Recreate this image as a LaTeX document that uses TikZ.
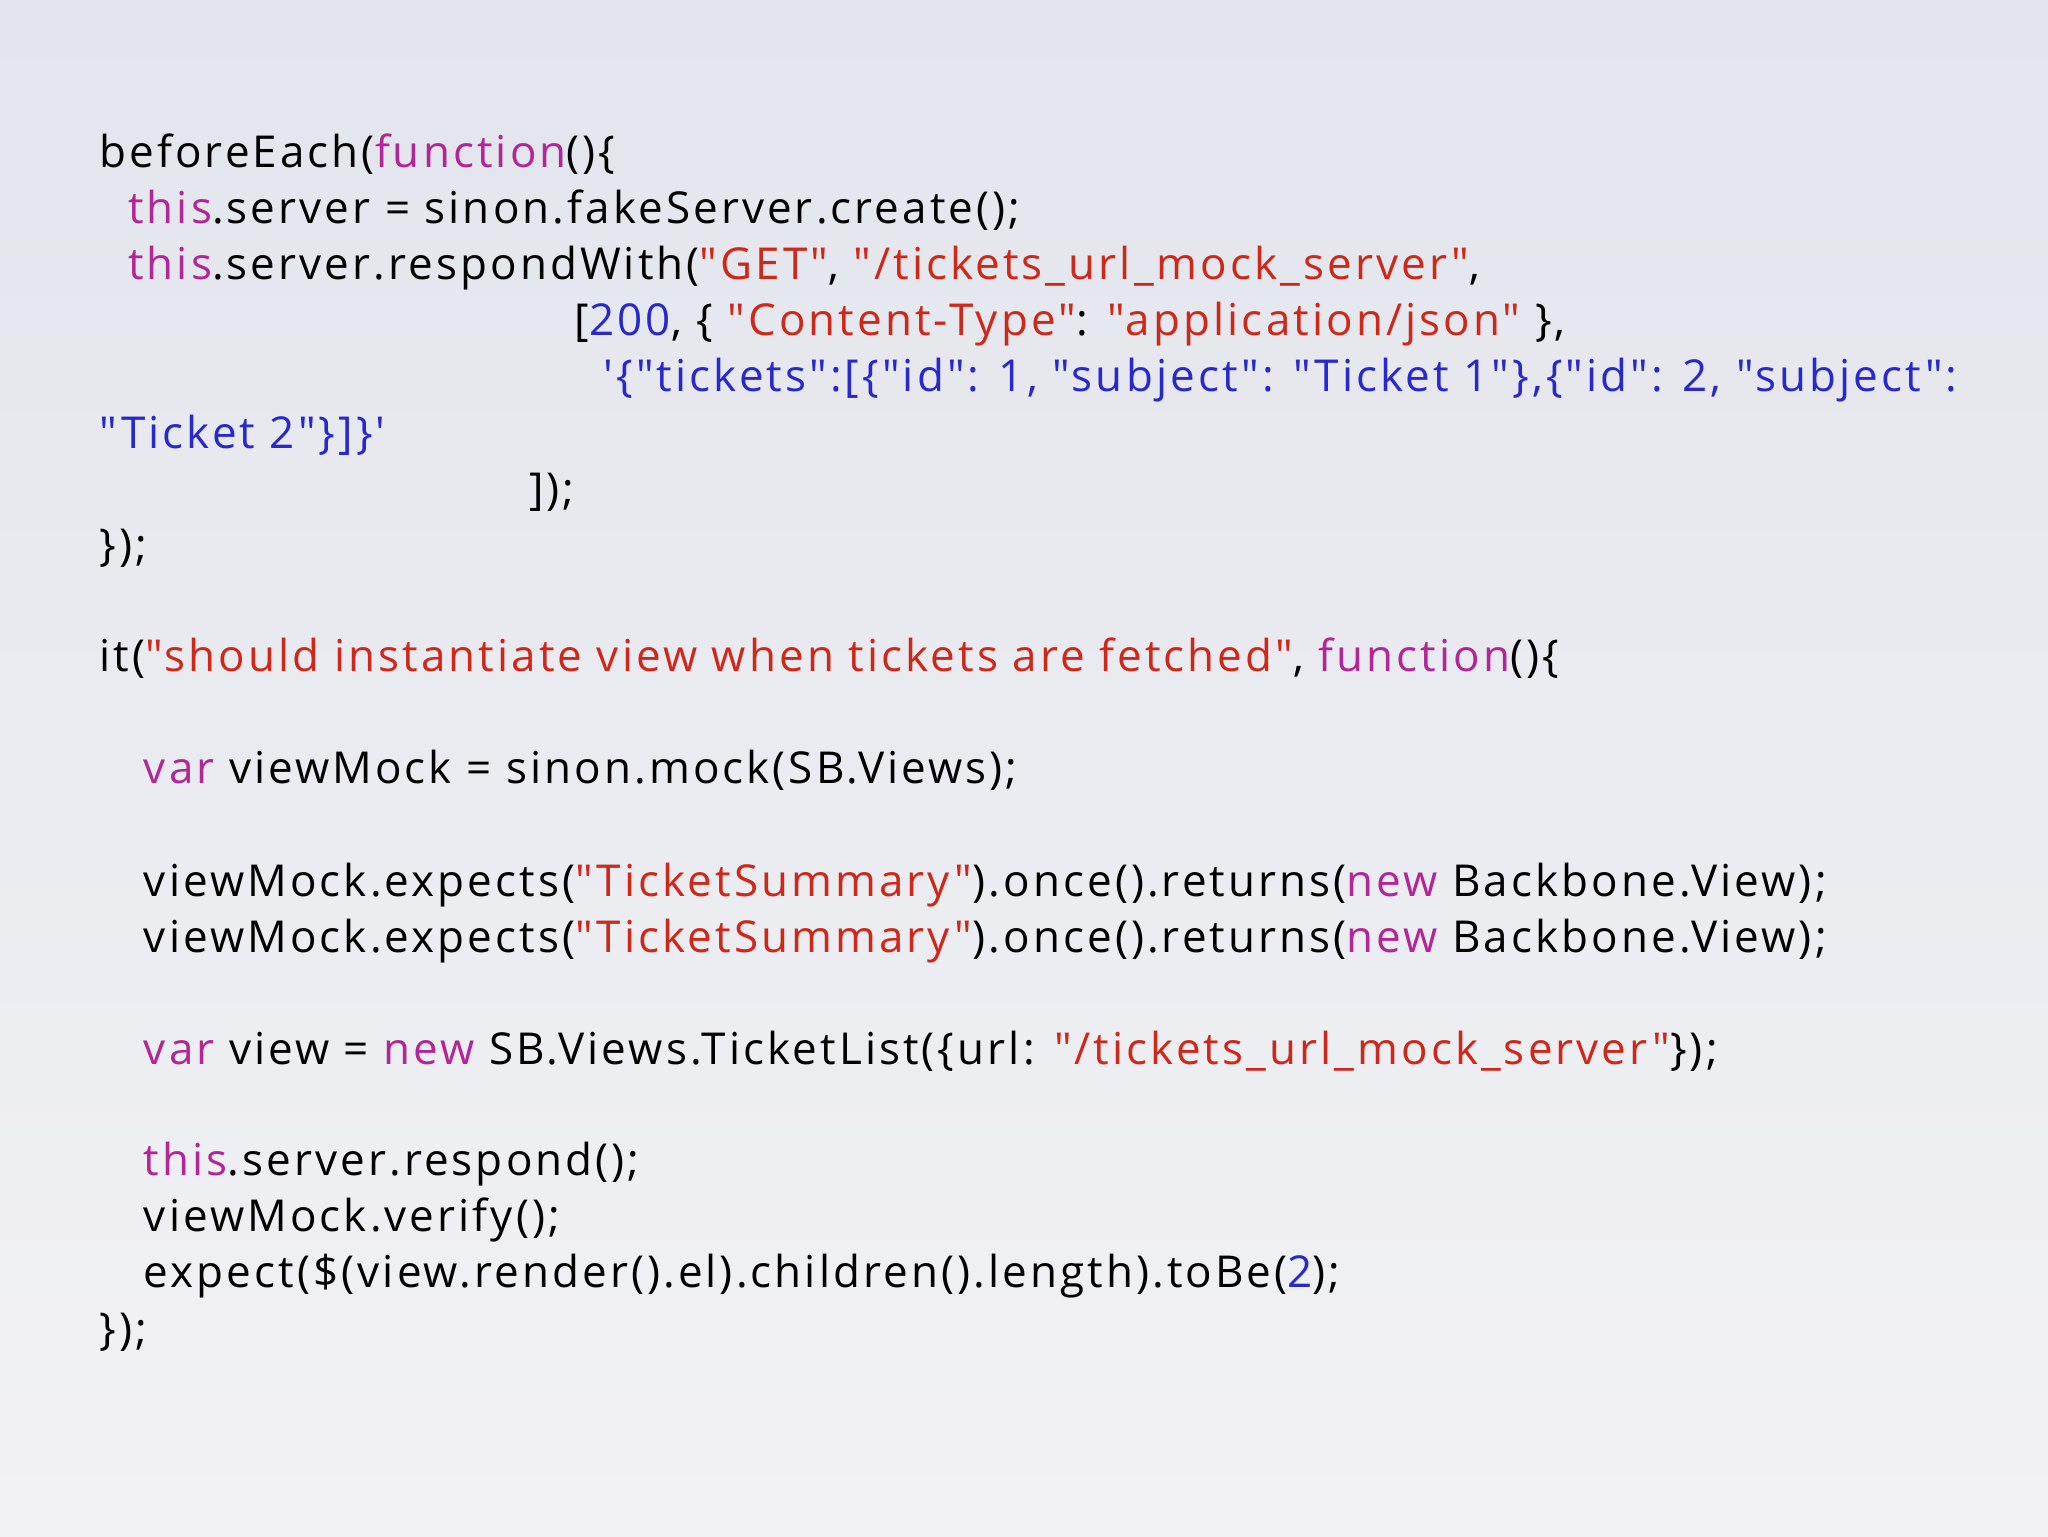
\documentclass[tikz,border=0pt]{standalone}
\usepackage{fontspec}
\newfontfamily\codefont{Open Sans}[LetterSpace=7]
\definecolor{kw}{RGB}{178,38,150}
\definecolor{st}{RGB}{205,40,25}
\definecolor{nu}{RGB}{40,40,205}
\definecolor{bgA}{RGB}{226,229,236}
\definecolor{bgB}{RGB}{242,242,245}
\newcommand{\K}[1]{\textcolor{kw}{#1}}
\newcommand{\Sx}[1]{\textcolor{st}{#1}}
\newcommand{\N}[1]{\textcolor{nu}{#1}}
\begin{document}
\begin{tikzpicture}[x=1bp,y=-1bp,
  code/.style={anchor=base west,inner sep=0pt,font=\codefont\fontsize{33.8}{36}\selectfont}]
\shade[top color=bgA,bottom color=bgB] (0,0) rectangle (1568,1176);
\useasboundingbox (0,0) rectangle (1568,1176);
\node[code] (l1) at (76,128) {beforeEach(\K{function}()\{};
\node[code] (l2) at (98,171) {\K{this}.server = sinon.fakeServer.create();};
\node[code] (l3) at (98,214) {\K{this}.server.respondWith(\Sx{"GET"}, \Sx{"/tickets\_url\_mock\_server"},};
\node[code] (l4) at (440,257) {[\N{200}, \{ \Sx{"Content-Type"}: \Sx{"application/json"} \},};
\node[code] (l5) at (462,300) {\N{'\{"tickets":[\{"id": 1, "subject": "Ticket 1"\},\{"id": 2, "subject":}};
\node[code] (l6) at (76,343) {\N{"Ticket 2"\}]\}'}};
\node[code] (l7) at (405,386) {]);};
\node[code] (l8) at (76,429) {\});};
\node[code] (l9) at (76,514) {it(\Sx{"should instantiate view when tickets are fetched"}, \K{function}()\{};
\node[code] (l10) at (110,600) {\K{var} viewMock = sinon.mock(SB.Views);};
\node[code] (l11) at (110,686) {viewMock.expects(\Sx{"TicketSummary"}).once().returns(\K{new} Backbone.View);};
\node[code] (l12) at (110,729) {viewMock.expects(\Sx{"TicketSummary"}).once().returns(\K{new} Backbone.View);};
\node[code] (l13) at (110,815) {\K{var} view = \K{new} SB.Views.TicketList(\{url: \Sx{"/tickets\_url\_mock\_server"}\});};
\node[code] (l14) at (110,900) {\K{this}.server.respond();};
\node[code] (l15) at (110,943) {viewMock.verify();};
\node[code] (l16) at (110,986) {expect(\$(view.render().el).children().length).toBe(\N{2});};
\node[code] (l17) at (76,1029) {\});};
\end{tikzpicture}
\end{document}
